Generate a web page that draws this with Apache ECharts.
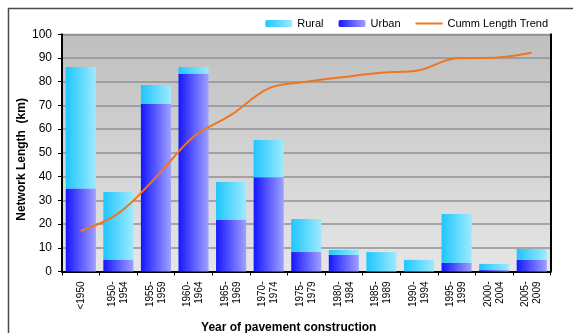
<!DOCTYPE html>
<html>
<head>
<meta charset="utf-8">
<script src="https://cdn.jsdelivr.net/npm/echarts@6/dist/echarts.min.js"></script>
<style>
  html, body { margin: 0; padding: 0; background: #fff; }
  #chart { width: 573px; height: 333px; }
</style>
</head>
<body>
<div id="chart"></div>
<script>
// Construction periods on the x axis
const periods = ['<1950', '1950-\n1954', '1955-\n1959', '1960-\n1964', '1965-\n1969',
  '1970-\n1974', '1975-\n1979', '1980-\n1984', '1985-\n1989', '1990-\n1994',
  '1995-\n1999', '2000-\n2004', '2005-\n2009'];

// Network length built in each period (km)
const urbanKm = [35.0, 4.9, 70.6, 83.4, 21.7, 39.7, 8.2, 7.0, 0, 0, 3.6, 0.6, 4.9];
const ruralKm = [51.2, 28.6, 8.0, 2.8, 16.0, 15.7, 13.9, 2.1, 8.2, 4.9, 20.6, 2.6, 4.6];

// Cumulative length trend
const cummTrend = [17.1, 24.5, 39.7, 56.8, 66.0, 77.2, 80.0, 82.0, 83.8, 84.8, 89.9, 90.1, 92.2];

// Y axis range
const yMin = 0, yMax = 100, yStep = 10;

const FONT = 'Liberation Sans';
const chart = echarts.init(document.getElementById('chart'), null, { renderer: 'canvas' });

const hGrad = (a, b) => new echarts.graphic.LinearGradient(0, 0, 1, 0, [
  { offset: 0, color: a }, { offset: 1, color: b }
]);

// Legend marker for the trend: a plain stroke, the outer zero-area edges keep the 27x7 box
const lineIcon = 'path://M0,0L27,0M0,2.6L27,2.6L27,4.4L0,4.4ZM0,7L27,7';

chart.setOption({
  animation: false,
  backgroundColor: '#ffffff',
  textStyle: { fontFamily: FONT },
  graphic: [{
    type: 'rect', left: 6, top: 6, z: -10,
    shape: { x: 0, y: 0, width: 640, height: 400 },
    style: { fill: 'none', stroke: '#4a4a4a', lineWidth: 1.5 }
  }],
  legend: {
    right: 20, top: 13,
    itemWidth: 27, itemHeight: 7, itemGap: 15,
    textStyle: { fontFamily: FONT, fontSize: 11, color: '#000' },
    data: ['Rural', 'Urban', { name: 'Cumm Length Trend', icon: lineIcon }]
  },
  grid: {
    left: 62, right: 22.5, top: 34.3, bottom: 61.5,
    outerBoundsMode: 'none',
    containLabel: false,
    show: true,
    borderColor: '#8a8a8a', borderWidth: 1,
    backgroundColor: new echarts.graphic.LinearGradient(0, 0, 0, 1, [
      { offset: 0, color: '#bfbfbf' }, { offset: 1, color: '#e6e6e6' }
    ])
  },
  xAxis: {
    type: 'category',
    data: periods,
    name: 'Year of pavement construction',
    nameLocation: 'middle',
    nameGap: 50,
    nameMoveOverlap: false,
    nameTextStyle: { fontFamily: FONT, fontSize: 12, fontWeight: 'bold', color: '#000', padding: [0, 35, 0, 0] },
    axisLine: { lineStyle: { color: '#000', width: 2 } },
    axisTick: { show: true, length: 4, lineStyle: { color: '#000', width: 1 } },
    axisLabel: { rotate: 90, fontFamily: FONT, fontSize: 10, lineHeight: 12, color: '#000', margin: 10 }
  },
  yAxis: [{
    type: 'value',
    min: yMin, max: yMax, interval: yStep,
    name: 'Network Length  (km)',
    nameLocation: 'middle',
    nameGap: 34,
    nameMoveOverlap: false,
    nameTextStyle: { fontFamily: FONT, fontSize: 12, fontWeight: 'bold', color: '#000', padding: [0, 13, 0, 0] },
    axisLine: { show: true, lineStyle: { color: '#000', width: 2 } },
    axisTick: { show: true, length: 4, lineStyle: { color: '#000', width: 1 } },
    axisLabel: { fontFamily: FONT, fontSize: 12, color: '#000', margin: 10 },
    splitLine: { lineStyle: { color: '#919191', width: 1.5 } }
  }, {
    type: 'value',
    position: 'right',
    min: yMin, max: yMax, interval: yStep,
    axisLine: { show: true, lineStyle: { color: '#000', width: 2 } },
    axisTick: { show: false },
    axisLabel: { show: false },
    splitLine: { show: false }
  }],
  series: [{
    name: 'Urban',
    type: 'bar',
    stack: 'len',
    data: urbanKm,
    barCategoryGap: '20%',
    itemStyle: { color: hGrad('#1616ff', '#a0a0ff') }
  }, {
    name: 'Rural',
    type: 'bar',
    stack: 'len',
    data: ruralKm,
    barCategoryGap: '20%',
    itemStyle: { color: hGrad('#1ec6ff', '#9eeaff') }
  }, {
    name: 'Cumm Length Trend',
    type: 'line',
    data: cummTrend,
    smooth: 0.35,
    symbol: 'none',
    z: 5,
    lineStyle: { color: '#f07522', width: 2 },
    itemStyle: { color: '#f07522' }
  }]
});
</script>
</body>
</html>
